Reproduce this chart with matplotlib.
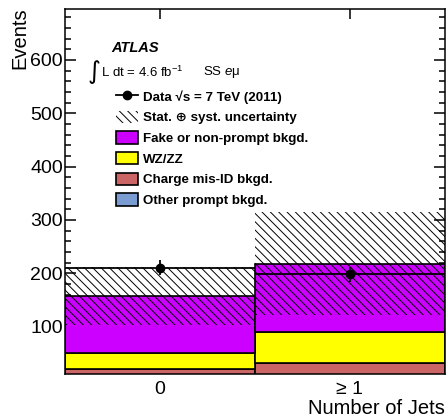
import numpy as np
import matplotlib
matplotlib.use("Agg")
import matplotlib.pyplot as plt
from matplotlib.patches import Patch
from matplotlib.lines import Line2D
from matplotlib.ticker import MultipleLocator

plt.rcParams['font.family'] = ['Liberation Sans', 'DejaVu Sans']
plt.rcParams['mathtext.fontset'] = 'custom'
plt.rcParams['mathtext.rm'] = 'Liberation Sans'
plt.rcParams['mathtext.it'] = 'Liberation Sans:italic'
plt.rcParams['mathtext.bf'] = 'Liberation Sans:bold'
plt.rcParams['hatch.linewidth'] = 0.7

# bins: 0 jets, >= 1 jet
categories = ["0", "≥ 1"]
bin_edges = [-0.5, 0.5]
other_prompt = [4, 6]
charge_misid = [16, 26]
wz_zz = [31, 58]
fake = [106, 128]
bkg_unc = [55, 96]
data = [210, 198]
data_err = [14, 14]

stack_names = ["Other prompt bkgd.", "Charge mis-ID bkgd.", "WZ/ZZ", "Fake or non-prompt bkgd."]
stack_colors = ["#7b9bd3", "#cc6666", "#ffff00", "#cc00ff"]
stack_vals = [other_prompt, charge_misid, wz_zz, fake]
hatch = "\\" * 4

fig = plt.figure(figsize=(4.46, 4.20), dpi=100)
ax = fig.add_axes([65 / 446, 1 - 374 / 420, 380 / 446, 364.7 / 420])

bottom = np.zeros(2)
for name, col, vals in zip(stack_names, stack_colors, stack_vals):
    vals = np.array(vals, dtype=float)
    ax.bar(bin_edges, vals, width=1.0, bottom=bottom, align="edge",
           color=col, edgecolor="black", linewidth=1.2, zorder=2)
    bottom = bottom + vals

total = bottom
unc = np.array(bkg_unc, dtype=float)
ax.bar(bin_edges, 2 * unc, width=1.0, bottom=total - unc, align="edge",
       fill=False, hatch=hatch, edgecolor="black", linewidth=0, zorder=3)

xc = np.arange(len(categories))
ax.errorbar(xc, data, yerr=data_err, xerr=0.5, fmt="o", color="black",
            markersize=6, elinewidth=1.3, capsize=0, zorder=5)

ax.set_xlim(-0.5, 1.5)
ax.set_ylim(11, 695)
ax.set_xticks(xc)
ax.set_xticklabels(categories)
ax.yaxis.set_major_locator(MultipleLocator(100))
ax.yaxis.set_minor_locator(MultipleLocator(20))
ax.tick_params(axis="both", which="both", direction="in", top=True, right=True, width=1.1)
ax.tick_params(axis="y", which="major", length=8, labelsize=14, pad=1.5)
ax.tick_params(axis="y", which="minor", length=4.3)
ax.tick_params(axis="x", which="major", length=7.5, labelsize=14, pad=5)
for sp in ax.spines.values():
    sp.set_linewidth(1.1)
    sp.set_zorder(6)

fig.text(10 / 446, 1 - 7 / 420, "Events", rotation=90, ha="left", va="top", fontsize=14.5)
fig.text(445 / 446, 0.004, "Number of Jets", ha="right", va="bottom", fontsize=14.5)

ax.text(0.123, 0.893, "ATLAS", transform=ax.transAxes, fontsize=10.5,
        fontweight="bold", fontstyle="italic", va="center", ha="left")
ax.text(0.06, 0.828, "∫", transform=ax.transAxes, fontsize=18,
        family="DejaVu Sans", va="center", ha="left")
ax.text(0.096, 0.827, r"L dt = 4.6 fb$^{\mathregular{-1}}$", transform=ax.transAxes,
        fontsize=9.5, va="center", ha="left")
ax.text(0.363, 0.827, r"SS $\mathit{e}$μ", transform=ax.transAxes,
        fontsize=9.5, va="center", ha="left")

handles = [
    Line2D([0], [0], color="black", marker="o", markersize=6, lw=1.3),
    Patch(fill=False, hatch=hatch, edgecolor="black", linewidth=0),
    Patch(facecolor=stack_colors[3], edgecolor="black", linewidth=1.2),
    Patch(facecolor=stack_colors[2], edgecolor="black", linewidth=1.2),
    Patch(facecolor=stack_colors[1], edgecolor="black", linewidth=1.2),
    Patch(facecolor=stack_colors[0], edgecolor="black", linewidth=1.2),
]
labels = ["Data √s = 7 TeV (2011)", "Stat. ⊕ syst. uncertainty",
          stack_names[3], stack_names[2], stack_names[1], stack_names[0]]
ax.legend(handles, labels, loc="upper left", bbox_to_anchor=(0.134, 0.7785),
          frameon=False, borderpad=0, borderaxespad=0,
          prop={"weight": "bold", "size": 9.6},
          handlelength=1.65, handleheight=1.05, handletextpad=0.35, labelspacing=0.52)

fig.savefig("out.png", dpi=100)
